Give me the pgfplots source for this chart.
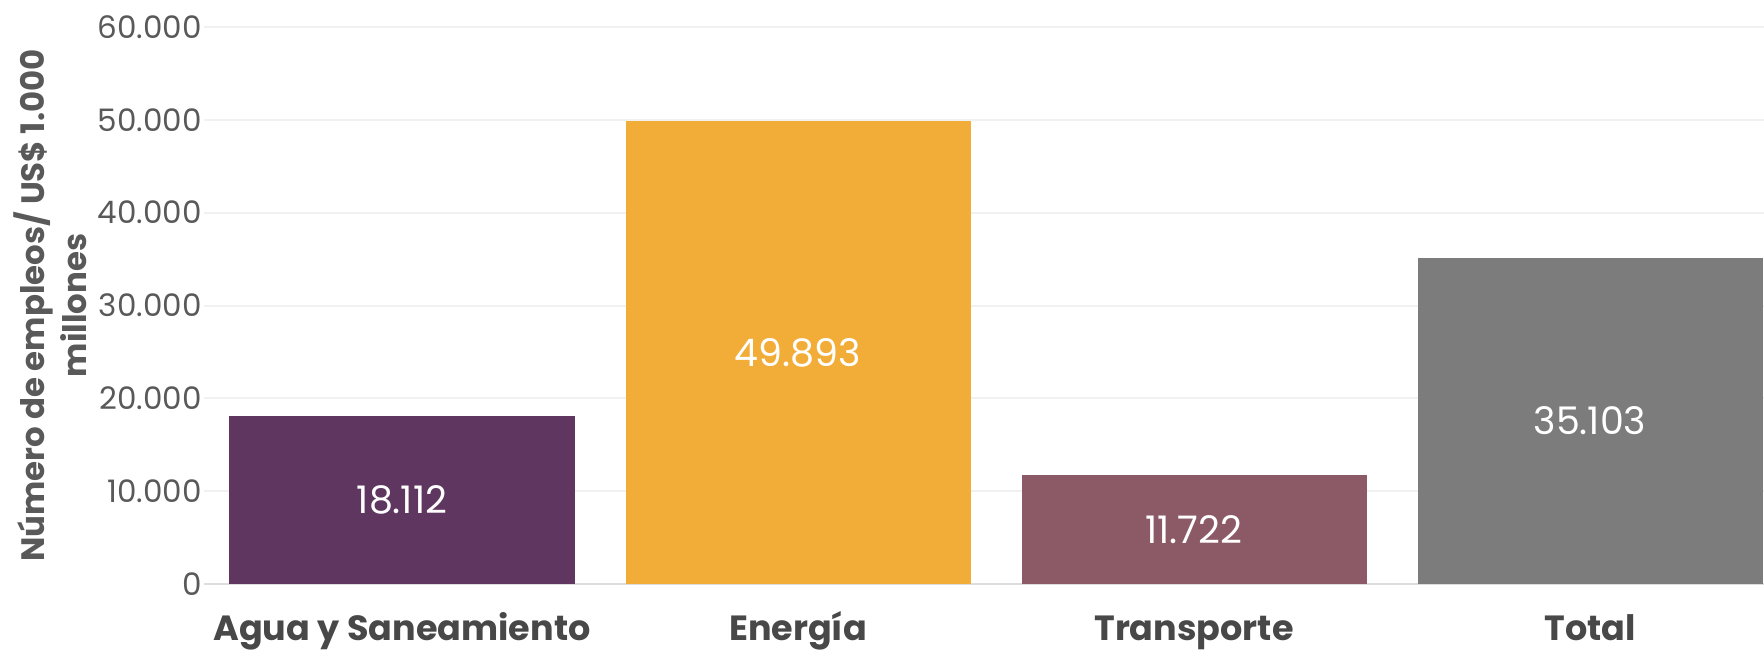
\documentclass[border=0pt]{standalone}
\usepackage{pgfplots}
\pgfplotsset{compat=1.18}
\usepackage{pgfplotstable}
\usepackage{fontspec}
\setmainfont{Poppins}
\definecolor{cAgua}{HTML}{5E3660}
\definecolor{cEner}{HTML}{F2AD38}
\definecolor{cTrans}{HTML}{8C5A66}
\definecolor{cTot}{HTML}{7B7C7B}
\definecolor{tickc}{HTML}{595959}
\definecolor{catc}{HTML}{484848}
\definecolor{gridc}{HTML}{F1F1F1}
\definecolor{basec}{HTML}{DDDDDD}

\pgfplotstableread{
x v lab
0 18112 18.112
1 49893 49.893
2 11722 11.722
3 35103 35.103
}\datatab

\begin{document}
\begin{tikzpicture}
\useasboundingbox (0,0) rectangle (882pt,325pt);
\begin{axis}[
  at={(102pt,33pt)}, anchor=south west,
  width=780pt, height=278.5pt, scale only axis,
  xmin=-0.5, xmax=3.4394, ymin=0, ymax=60000,
  axis line style={draw=none},
  major tick length=0pt,
  scaled y ticks=false,
  ymajorgrids, grid style={gridc, line width=1pt},
  ytick={0,10000,20000,30000,40000,50000,60000},
  yticklabels={0,10.000,20.000,30.000,40.000,50.000,60.000},
  extra y ticks={0}, extra y tick labels={},
  extra y tick style={grid style={basec, line width=1pt}},
  yticklabel style={font=\fontsize{15.5}{18}\selectfont, text=tickc, anchor=east, inner sep=0pt, xshift=-1pt},
  xtick={0,1,2,3},
  xticklabels={Agua y Saneamiento, Energía, Transporte, Total},
  xticklabel style={font=\bfseries\fontsize{17.5}{20}\selectfont, text=catc, anchor=base, yshift=-28pt, inner sep=0pt},
  ylabel={Número de empleos/ US\$ 1.000\\millones},
  ylabel style={at={(axis description cs:-0.0985,0.5)}, anchor=center, align=center,
    font=\bfseries\fontsize{16.2}{21}\selectfont, text=tickc},
]
\addplot[ybar, bar width=172.5pt, bar shift=0pt, fill=cAgua, draw=none] coordinates {(0,18112)};
\addplot[ybar, bar width=172.5pt, bar shift=0pt, fill=cEner, draw=none] coordinates {(1,49893)};
\addplot[ybar, bar width=172.5pt, bar shift=0pt, fill=cTrans, draw=none] coordinates {(2,11722)};
\addplot[ybar, bar width=172.5pt, bar shift=0pt, fill=cTot, draw=none] coordinates {(3,35103)};
\addplot[draw=none, mark=none, nodes near coords, point meta=explicit symbolic,
  nodes near coords style={anchor=center, text=white, font=\fontsize{19}{22}\selectfont}]
  table[x=x, y expr=\thisrow{v}/2, meta=lab] {\datatab};
\end{axis}
\end{tikzpicture}
\end{document}
